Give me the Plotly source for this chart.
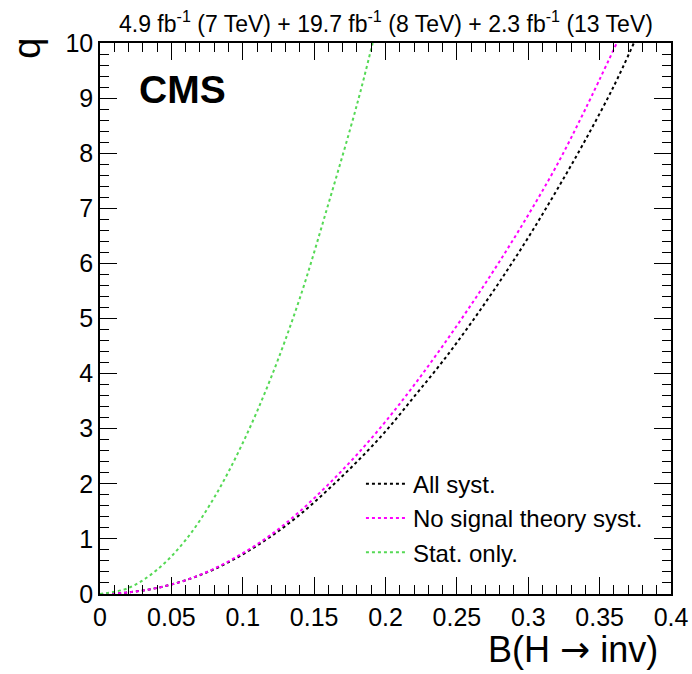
import plotly.graph_objects as go

# Test statistic q versus the invisible branching fraction
x_all = [0.0, 0.02, 0.04, 0.06, 0.08, 0.10, 0.12, 0.14, 0.16, 0.18, 0.20,
         0.22, 0.24, 0.26, 0.28, 0.30, 0.32, 0.34, 0.36, 0.374]
q_all = [0.0, 0.03, 0.11, 0.25, 0.45, 0.72, 1.05, 1.44, 1.90, 2.40, 2.95,
         3.58, 4.22, 4.92, 5.67, 6.47, 7.33, 8.24, 9.22, 10.0]

x_nosig = [0.0, 0.02, 0.04, 0.06, 0.08, 0.10, 0.12, 0.14, 0.16, 0.18, 0.20,
           0.22, 0.24, 0.26, 0.28, 0.30, 0.32, 0.34, 0.362]
q_nosig = [0.0, 0.03, 0.11, 0.25, 0.46, 0.74, 1.08, 1.50, 1.99, 2.53, 3.13,
           3.79, 4.50, 5.25, 6.04, 6.88, 7.78, 8.80, 10.0]

x_stat = [0.0, 0.02, 0.04, 0.06, 0.08, 0.10, 0.12, 0.14, 0.16, 0.18, 0.191]
q_stat = [0.0, 0.11, 0.44, 0.98, 1.75, 2.74, 3.94, 5.37, 7.08, 8.88, 10.0]

series = [
    ("All syst.", x_all, q_all, "black"),
    ("No signal theory syst.", x_nosig, q_nosig, "#ff00ff"),
    ("Stat. only.", x_stat, q_stat, "#55d955"),
]

FONT = "Liberation Sans, Arial, sans-serif"

fig = go.Figure()
for i, (name, xs, qs, col) in enumerate(series):
    fig.add_trace(go.Scatter(
        x=xs, y=qs, mode="lines", name=name, legendgroup=f"g{i}",
        line=dict(color=col, width=2, dash="3px,3px", shape="spline"),
    ))

axis_common = dict(
    showgrid=False, zeroline=False, showline=True, linecolor="black",
    linewidth=1.5, mirror="allticks", ticks="inside", ticklen=17,
    tickwidth=1, tickcolor="black", automargin=False,
    tickfont=dict(family=FONT, size=25, color="black"),
)

fig.update_xaxes(range=[0, 0.4], dtick=0.05, tick0=0,
                 minor=dict(dtick=0.01, ticks="inside", ticklen=9,
                            tickcolor="black", tickwidth=1),
                 **axis_common)
fig.update_yaxes(range=[0, 10], dtick=1, tick0=0,
                 minor=dict(dtick=0.2, ticks="inside", ticklen=9,
                            tickcolor="black", tickwidth=1),
                 **axis_common)

annotations = [
    dict(text="B(H <span style=\"font-family:'DejaVu Sans'\">\u2192</span> inv)",
         x=0.981, y=-0.1, xref="paper", yref="paper",
         xanchor="right", yanchor="middle", showarrow=False,
         font=dict(family=FONT, size=36, color="black")),
    dict(text="q", x=-0.128, y=0.991, xref="paper", yref="paper",
         xanchor="center", yanchor="middle", textangle=-90, showarrow=False,
         font=dict(family=FONT, size=38, color="black")),
    dict(text="<b>CMS</b>", x=0.0648, y=0.9165, xref="paper", yref="paper",
         xanchor="left", yanchor="middle", showarrow=False,
         font=dict(family=FONT, size=39, color="black")),
    dict(text="4.9 fb<sup>-1</sup> (7 TeV) + 19.7 fb<sup>-1</sup> (8 TeV) + "
              "2.3 fb<sup>-1</sup> (13 TeV)",
         x=0.972, y=1.038, xref="paper", yref="paper",
         xanchor="right", yanchor="middle", showarrow=False,
         font=dict(family=FONT, size=23, color="black")),
]

fig.update_layout(
    width=692, height=674, autosize=False,
    margin=dict(l=100, r=21, t=43, b=80, autoexpand=False),
    paper_bgcolor="white", plot_bgcolor="white",
    annotations=annotations,
    showlegend=True,
    legend=dict(x=0.457, y=0.24, xanchor="left", yanchor="top",
                bgcolor="rgba(0,0,0,0)", borderwidth=0, itemwidth=42,
                font=dict(family=FONT, size=24, color="black"),
                tracegroupgap=0, traceorder="normal"),
)

fig.write_html("out.html")
